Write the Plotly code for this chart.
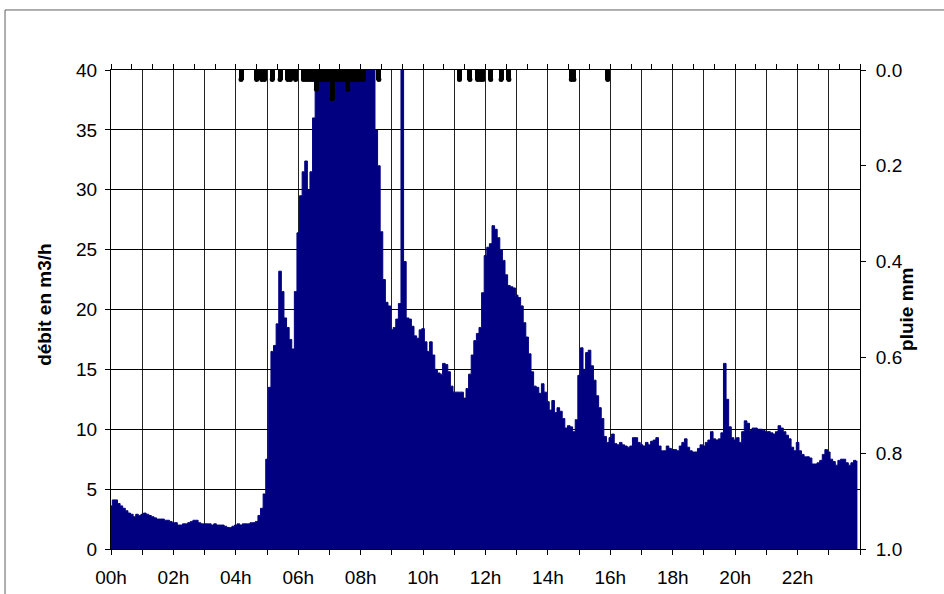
import plotly.graph_objects as go

# Débit mesuré (m3/h), pas de 5 minutes, une ligne par heure de 00h à 23h
debit_m3h = [
    3.6, 4.1, 4.1, 3.8, 3.6, 3.4, 3.2, 3.0, 2.9, 2.7, 2.9, 2.8,          # 00h
    2.9, 3.0, 2.9, 2.8, 2.7, 2.6, 2.5, 2.5, 2.5, 2.4, 2.4, 2.3,          # 01h
    2.2, 2.2, 2.0, 2.0, 2.1, 2.1, 2.2, 2.3, 2.4, 2.4, 2.2, 2.1,          # 02h
    2.1, 2.1, 2.1, 2.0, 2.1, 2.0, 2.0, 2.0, 1.9, 1.8, 1.8, 1.9,          # 03h
    2.0, 2.1, 2.0, 2.1, 2.1, 2.1, 2.2, 2.2, 2.3, 2.8, 3.4, 4.6,          # 04h
    7.5, 13.5, 16.5, 17.0, 18.8, 23.2, 21.5, 19.3, 18.5, 17.5, 16.7, 21.5,  # 05h
    26.4, 29.5, 31.5, 32.4, 30.0, 31.5, 36.0, 40, 40, 40, 40, 40,        # 06h
    40, 40, 40, 40, 40, 40, 40, 40, 40, 40, 40, 40,                      # 07h
    40, 40, 40, 40, 40, 40, 35.0, 32.0, 26.5, 22.5, 20.6, 20.3,          # 08h
    18.3, 18.5, 19.2, 20.5, 40, 24.0, 19.3, 19.2, 18.6, 17.8, 17.6, 18.3,  # 09h
    18.4, 17.3, 16.5, 17.3, 16.2, 15.0, 14.7, 14.6, 15.5, 15.4, 14.8, 13.6,  # 10h
    13.1, 13.1, 13.1, 13.1, 12.6, 13.4, 14.6, 16.2, 17.4, 18.0, 18.5, 21.4,  # 11h
    24.5, 25.2, 25.5, 27.0, 26.7, 26.0, 25.0, 24.1, 22.9, 22.0, 21.9, 21.8,  # 12h
    21.2, 21.0, 20.3, 18.9, 17.7, 16.3, 14.8, 13.6, 13.5, 13.0, 13.8, 13.1,  # 13h
    12.3, 11.6, 12.4, 11.4, 11.8, 11.5, 10.9, 10.1, 10.3, 10.2, 9.8, 10.8,   # 14h
    14.5, 16.8, 15.0, 16.4, 16.6, 15.3, 14.1, 12.8, 11.8, 10.9, 9.4, 8.9,    # 15h
    9.3, 9.6, 8.8, 8.7, 8.9, 8.7, 8.6, 8.5, 8.6, 9.3, 9.3, 8.9,          # 16h
    8.7, 8.6, 8.9, 8.7, 9.0, 9.1, 9.3, 8.6, 8.2, 8.2, 8.6, 8.4,          # 17h
    8.3, 8.3, 8.2, 8.6, 8.9, 9.2, 8.5, 8.2, 8.1, 8.1, 8.4, 8.7,          # 18h
    8.6, 8.9, 9.1, 9.8, 9.2, 9.1, 9.2, 9.7, 15.5, 12.5, 10.2, 9.3,       # 19h
    9.1, 9.3, 8.9, 9.8, 10.7, 10.5, 9.9, 10.1, 10.1, 10.0, 10.0, 9.9,    # 20h
    9.8, 9.8, 9.7, 9.6, 9.8, 10.3, 10.1, 9.8, 9.5, 9.2, 8.5, 8.2,        # 21h
    8.9, 8.2, 7.9, 7.7, 7.7, 7.6, 7.1, 7.1, 7.2, 7.4, 7.9, 8.3,          # 22h
    8.1, 7.5, 7.3, 7.0, 7.4, 7.5, 7.5, 7.2, 7.0, 7.2, 7.4, 7.3,          # 23h
]
pas_minutes = 5

# Pluie relevée (mm) et heure de chaque relevé
pluie_horaires = [
    "04:10", "04:40", "04:50", "04:55", "05:10", "05:25", "05:40", "05:45", "05:55",
    "06:10", "06:15", "06:20", "06:25", "06:30", "06:35", "06:40", "06:45", "06:50",
    "06:55", "07:00", "07:05", "07:10", "07:15", "07:20", "07:25", "07:30", "07:35",
    "07:40", "07:45", "07:50", "07:55", "08:00", "08:05", "08:35",
    "11:10", "11:30", "11:45", "11:50", "11:55", "12:10", "12:30", "12:45",
    "14:45", "14:50", "15:55",
]
pluie_mm = [
    0.02, 0.02, 0.02, 0.02, 0.02, 0.02, 0.02, 0.02, 0.02,
    0.02, 0.02, 0.02, 0.02, 0.02, 0.04, 0.02, 0.02, 0.02,
    0.02, 0.02, 0.06, 0.02, 0.02, 0.02, 0.02, 0.02, 0.04,
    0.02, 0.02, 0.02, 0.02, 0.02, 0.02, 0.02,
    0.02, 0.02, 0.02, 0.02, 0.02, 0.02, 0.02, 0.02,
    0.02, 0.02, 0.02,
]

# Axes
heures_ticks = list(range(0, 25))
etiquettes_x = ["00h", "02h", "04h", "06h", "08h", "10h", "12h",
                "14h", "16h", "18h", "20h", "22h"]
debit_ticks = [0, 5, 10, 15, 20, 25, 30, 35, 40]
pluie_ticks = [0.0, 0.2, 0.4, 0.6, 0.8, 1.0]
pluie_etiquettes = ["0.0", "0.2", "0.4", "0.6", "0.8", "1.0"]

heures = [i * pas_minutes / 60 for i in range(len(debit_m3h))]
pluie_x = [int(h[:2]) + int(h[3:]) / 60 for h in pluie_horaires]

ticktext_x = []
for h in heures_ticks:
    ticktext_x.append(etiquettes_x[h // 2] if (h % 2 == 0 and h < 24) else "")

POLICE = "Liberation Sans, Arial, sans-serif"
NAVY = "#000080"
TAILLE = 19

fig = go.Figure()

fig.add_trace(go.Scatter(
    x=heures, y=debit_m3h, mode="lines",
    line=dict(color=NAVY, width=1, shape="hvh"),
    fill="tozeroy", fillcolor=NAVY,
    xaxis="x", yaxis="y", showlegend=False, hoverinfo="skip",
))

fig.add_trace(go.Bar(
    x=pluie_x, y=pluie_mm, width=0.16,
    marker=dict(color="black", line=dict(width=0)),
    xaxis="x2", yaxis="y2", showlegend=False, hoverinfo="skip",
))
fig.add_trace(go.Scatter(
    x=pluie_x, y=pluie_mm, mode="markers",
    marker=dict(color="black", size=5, symbol="circle", line=dict(width=0)),
    xaxis="x2", yaxis="y2", showlegend=False, hoverinfo="skip",
))

axe_commun = dict(
    showline=True, linecolor="black", linewidth=1,
    ticks="outside", ticklen=5, tickcolor="black", tickwidth=1,
    tickfont=dict(family=POLICE, size=TAILLE, color="black"),
    zeroline=False, automargin=False,
)

fig.update_layout(
    width=944, height=594,
    margin=dict(l=111, r=84, t=70, b=45),
    paper_bgcolor="white", plot_bgcolor="white",
    bargap=0,
    xaxis=dict(
        range=[0, 24], tickmode="array", tickvals=heures_ticks, ticktext=ticktext_x,
        showgrid=True, gridcolor="#222222", gridwidth=1,
        ticklabelstandoff=6,
        anchor="y", **axe_commun,
    ),
    xaxis2=dict(
        range=[0, 24], overlaying="x", side="top", anchor="y2",
        tickmode="linear", tick0=0, dtick=2 / 3,
        showticklabels=False, showgrid=False,
        **axe_commun,
    ),
    yaxis=dict(
        range=[0, 40], tickmode="array", tickvals=debit_ticks,
        showgrid=True, gridcolor="black", gridwidth=1,
        ticklabelstandoff=4,
        anchor="x", **axe_commun,
    ),
    yaxis2=dict(
        range=[1, 0], overlaying="y", side="right", anchor="x2",
        tickmode="array", tickvals=pluie_ticks, ticktext=pluie_etiquettes,
        showgrid=False, ticklabelstandoff=6, **axe_commun,
    ),
    annotations=[
        dict(text="<b>débit en m3/h</b>", textangle=-90,
             xref="paper", yref="paper", x=-0.088, y=0.51,
             xanchor="center", yanchor="middle",
             showarrow=False, font=dict(family=POLICE, size=TAILLE, color="black")),
        dict(text="<b>pluie mm</b>", textangle=-90,
             xref="paper", yref="paper", x=1.062, y=0.5,
             xanchor="center", yanchor="middle",
             showarrow=False, font=dict(family=POLICE, size=TAILLE, color="black")),
    ],
    shapes=[
        dict(type="rect", xref="paper", yref="paper",
             x0=-0.1415, x1=1.2, y0=-0.2, y1=1.1253,
             line=dict(color="#606060", width=1), fillcolor="rgba(0,0,0,0)",
             layer="below"),
    ],
)

fig.write_html("out.html")
